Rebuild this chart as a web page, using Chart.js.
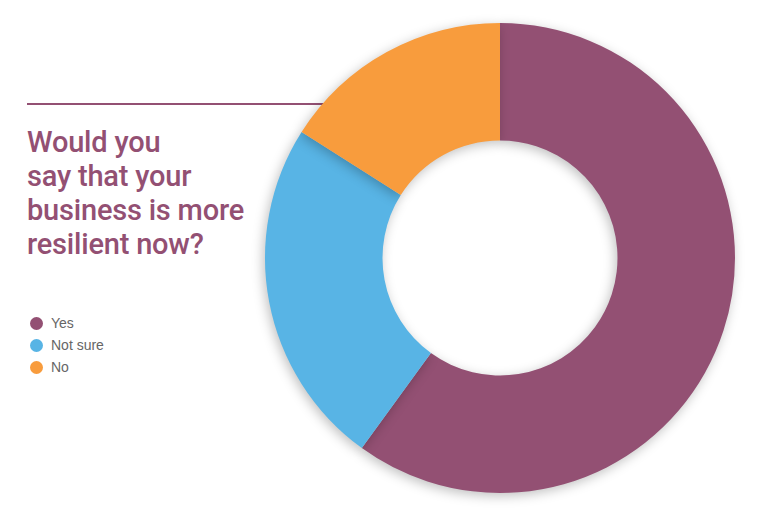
<!DOCTYPE html>
<html lang="en">
<head>
    <meta charset="UTF-8">
    <title>Business resilience</title>
    <script src="https://cdn.jsdelivr.net/npm/chart.js"></script>
    <style>
        body {
            margin: 0;
            width: 768px;
            height: 521px;
            background: #ffffff;
            position: relative;
            overflow: hidden;
            font-family: 'Liberation Sans', Arial, sans-serif;
        }
        .rule {
            position: absolute;
            left: 27px;
            top: 103px;
            width: 300px;
            height: 2px;
            background: #935073;
        }
        h1 {
            position: absolute;
            left: 27px;
            top: 125px;
            margin: 0;
            font-family: Roboto, 'Liberation Sans', sans-serif;
            font-weight: 500;
            font-size: 29px;
            line-height: 34px;
            letter-spacing: -0.2px;
            color: #935073;
            white-space: nowrap;
        }
        #legend {
            position: absolute;
            left: 30px;
            top: 312px;
            list-style: none;
            margin: 0;
            padding: 0;
            font-size: 14px;
            color: #666666;
        }
        #legend li {
            height: 22px;
            line-height: 22px;
            display: flex;
            align-items: center;
        }
        #legend span {
            display: inline-block;
            width: 13px;
            height: 13px;
            border-radius: 50%;
            margin-right: 8px;
        }
        #wrap {
            position: absolute;
            left: 245px;
            top: 3px;
            width: 510px;
            height: 510px;
        }
    </style>
</head>
<body>
    <div class="rule"></div>
    <div id="wrap"><canvas id="donut"></canvas></div>
    <h1>Would you<br>say that your<br>business is more<br>resilient now?</h1>
    <ul id="legend"></ul>

    <script>
        var answers = ['Yes', 'Not sure', 'No'];
        var shares = [60, 24, 16];
        var colours = ['#935073', '#58b4e5', '#f89c3d'];

        // soft shadow under the ring
        var shadowPlugin = {
            id: 'ringShadow',
            beforeDatasetDraw: function (chart) {
                var c = chart.ctx;
                c.save();
                c.shadowColor = 'rgba(0,0,0,0.25)';
                c.shadowBlur = 12;
                c.shadowOffsetX = -2;
                c.shadowOffsetY = 3;
            },
            afterDatasetDraw: function (chart) {
                chart.ctx.restore();
            }
        };

        var chart = new Chart(document.getElementById('donut'), {
            type: 'doughnut',
            data: {
                labels: answers,
                datasets: [{
                    data: shares,
                    backgroundColor: colours,
                    borderWidth: 0
                }]
            },
            options: {
                responsive: true,
                maintainAspectRatio: false,
                animation: false,
                cutout: '50%',
                layout: { padding: 20 },
                plugins: {
                    legend: { display: false },
                    tooltip: { enabled: false }
                }
            },
            plugins: [shadowPlugin]
        });

        // html legend built from the chart's own labels
        var list = document.getElementById('legend');
        chart.options.plugins.legend.labels.generateLabels(chart).forEach(function (item) {
            var li = document.createElement('li');
            var dot = document.createElement('span');
            dot.style.background = item.fillStyle;
            li.appendChild(dot);
            li.appendChild(document.createTextNode(item.text));
            list.appendChild(li);
        });
    </script>
</body>
</html>
